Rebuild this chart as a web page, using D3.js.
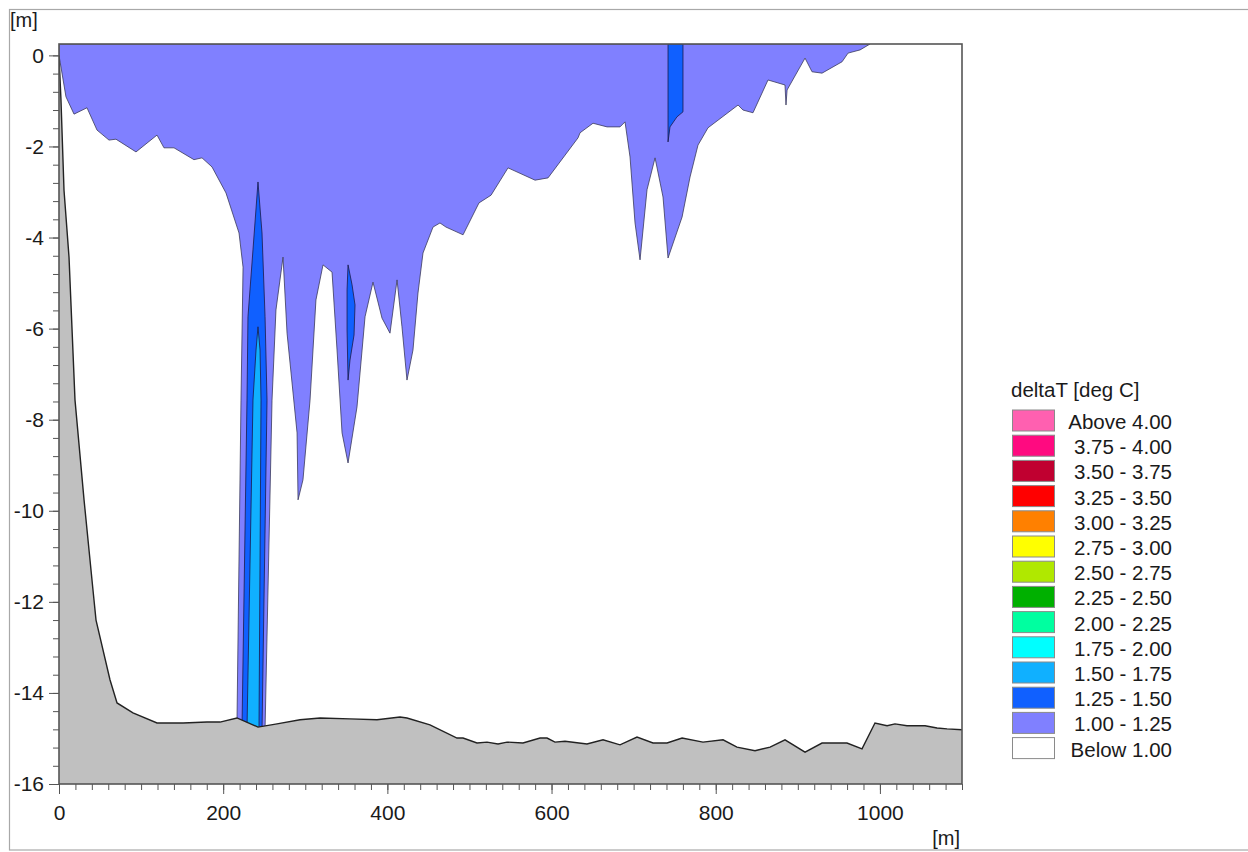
<!DOCTYPE html>
<html lang="en">
<head>
    <meta charset="UTF-8">
    <title>deltaT section</title>
    <script src="https://d3js.org/d3.v7.min.js"></script>
    <style>
        body { margin: 0; background: #fff; }
        svg text { font-family: "Liberation Sans", Arial, sans-serif; fill: #1a1a1a; }
    </style>
</head>
<body>
<div id="chart"></div>
<script>
    // section data, [distance m, level m]
    let bedLine = [[0, 0], [2.4, -0.98], [6.1, -2.96], [12.2, -4.43], [19.5, -7.57], [30.5, -9.76],
        [41.4, -11.74], [45.1, -12.4], [62.1, -13.71], [70.7, -14.22], [90.1, -14.44], [119.4, -14.66],
        [151.1, -14.66], [180.3, -14.64], [196.1, -14.64], [216.8, -14.55], [242.4, -14.75], [265.6, -14.68],
        [293.6, -14.59], [318, -14.55], [354.5, -14.57], [387.4, -14.59], [415.4, -14.53], [423.9, -14.55],
        [451.9, -14.7], [484.8, -14.99], [492.2, -14.99], [509.2, -15.1], [521.4, -15.08], [534.8, -15.12],
        [545.8, -15.08], [565.2, -15.1], [586, -14.99], [594.5, -14.99], [604.2, -15.08], [616.4, -15.06],
        [643.2, -15.12], [662.7, -15.03], [683.4, -15.14], [704.1, -14.97], [723.6, -15.1], [740.7, -15.1],
        [759, -14.99], [784.5, -15.08], [808.9, -15.03], [825.9, -15.19], [847.9, -15.27], [866.2, -15.19],
        [884.4, -15.03], [908.8, -15.3], [929.5, -15.1], [959.9, -15.1], [978.2, -15.23], [994, -14.66],
        [1008.7, -14.72], [1018.4, -14.68], [1033, -14.72], [1055, -14.72], [1069.6, -14.77],
        [1081.8, -14.79], [1100, -14.81]];

    // lower edge of the 1.00 - 1.25 zone
    let band1 = [[0, 0], [8.5, -0.91], [18.3, -1.29], [34.1, -1.15], [46.3, -1.64], [60.9, -1.86],
        [69.4, -1.84], [93.8, -2.12], [119.4, -1.75], [127.9, -2.03], [140.1, -2.03], [164.4, -2.29],
        [174.2, -2.25], [186.4, -2.45], [203.4, -3.02], [219.3, -3.9], [224.2, -4.65], [221.7, -7.57],
        [216.8, -14.65], [251, -14.8], [259.5, -7.57], [264.3, -5.59], [272.9, -4.43], [277.8, -6.1],
        [290, -8.29], [291.2, -9.76], [297.2, -9.32], [305.8, -7.57], [313, -5.37], [321.6, -4.6],
        [332.6, -4.76], [338.7, -6.47], [344.8, -8.29], [352.1, -8.95], [363, -7.72], [372.8, -5.74],
        [382.5, -4.98], [393.5, -5.77], [403.2, -6.1], [411.8, -4.93], [417.8, -5.96], [423.9, -7.13],
        [431.2, -6.47], [437.3, -5.22], [443.4, -4.34], [455.6, -3.77], [464.1, -3.68], [471.4, -3.77],
        [492.2, -3.94], [511.6, -3.24], [526.3, -3.07], [547, -2.47], [579.9, -2.74], [595.7, -2.69],
        [632.3, -1.81], [634.7, -1.7], [650.5, -1.49], [667.6, -1.57], [683.4, -1.57], [689.5, -1.46],
        [695.6, -2.23], [701.7, -3.68], [707.8, -4.49], [716.3, -2.95], [726.1, -2.25], [735.8, -3.11],
        [741.9, -4.45], [759, -3.55], [768.7, -2.67], [778.4, -1.97], [790.6, -1.59], [827.2, -1.09],
        [833.2, -1.2], [845.4, -1.26], [863.7, -0.54], [884.4, -0.65], [885.6, -1.09], [886.9, -0.76],
        [908.8, -0.06], [917.3, -0.36], [929.5, -0.39], [953.9, -0.14], [961.2, 0.05], [975.8, 0.12],
        [988, 0.25]];

    // 1.25 - 1.50 zones
    let band2a = [[222.9, -14.8], [229, -7.57], [230.2, -5.74], [236.3, -4.27], [242.4, -2.78],
        [247.3, -3.9], [251, -5.74], [253.4, -7.57], [247.3, -14.85]];
    let band2b = [[352.1, -4.6], [357, -5.04], [360.6, -5.48], [359.4, -6.14], [354.5, -6.69],
        [352.1, -7.13], [350.9, -6.03], [350.9, -5.15]];
    let band2c = [[741.9, 0.25], [760.1, 0.25], [760.1, -1.24], [752.8, -1.35], [744.3, -1.57],
        [741.9, -1.9]];

    // 1.50 - 1.75 zone
    let band3 = [[229, -14.8], [236.3, -7.57], [240, -6.47], [242.4, -5.96], [244.9, -6.47],
        [246.1, -7.57], [243.6, -14.85]];

    let legendLabels = ['Above 4.00', '3.75 - 4.00', '3.50 - 3.75', '3.25 - 3.50', '3.00 - 3.25',
        '2.75 - 3.00', '2.50 - 2.75', '2.25 - 2.50', '2.00 - 2.25', '1.75 - 2.00', '1.50 - 1.75',
        '1.25 - 1.50', '1.00 - 1.25', 'Below 1.00'];
    let legendColors = ['#ff60b0', '#ff0a80', '#c00030', '#ff0000', '#ff8000', '#ffff00', '#b0e800',
        '#00b000', '#00ffa0', '#00ffff', '#10b0ff', '#1060ff', '#8080ff', '#ffffff'];

    let xTicks = [0, 200, 400, 600, 800, 1000];
    let yTicks = [0, -2, -4, -6, -8, -10, -12, -14, -16];

    let W = 1248, H = 852;
    let pLeft = 59, pRight = 962, pTop = 44, pBottom = 784;

    let svg = d3.select('#chart')
        .append('svg')
        .attr('width', W)
        .attr('height', H);

    // outer frame
    svg.append('rect')
        .attr('x', 9.5).attr('y', 9.5)
        .attr('width', W + 20).attr('height', 840.5)
        .attr('fill', 'none')
        .attr('stroke', '#a8a8a8')
        .attr('stroke-width', 1.2);

    let x = d3.scaleLinear().domain([0, 1100]).range([pLeft, pRight]);
    let y = d3.scaleLinear().domain([-16, 0.25]).range([pBottom, pTop]);

    let plot = svg.append('g');
    plot.append('clipPath').attr('id', 'clip')
        .append('rect')
        .attr('x', pLeft).attr('y', pTop)
        .attr('width', pRight - pLeft).attr('height', pBottom - pTop);

    let area = plot.append('g').attr('clip-path', 'url(#clip)');

    let line = d3.line().x(d => x(d[0])).y(d => y(d[1]));

    area.append('rect')
        .attr('x', pLeft).attr('y', pTop)
        .attr('width', pRight - pLeft).attr('height', pBottom - pTop)
        .attr('fill', '#ffffff');

    // 1.00 - 1.25 zone closed along the surface
    let band1Poly = [[0, 0.25]].concat(band1).concat([[0, 0.25]]);
    area.append('path')
        .attr('d', line(band1Poly))
        .attr('fill', legendColors[12])
        .attr('stroke', '#3a3a5a')
        .attr('stroke-width', 0.8);

    [band2a, band2b, band2c].forEach(function (b) {
        area.append('path')
            .attr('d', line(b) + 'Z')
            .attr('fill', legendColors[11])
            .attr('stroke', '#1a1a4a')
            .attr('stroke-width', 0.8);
    });

    area.append('path')
        .attr('d', line(band3) + 'Z')
        .attr('fill', legendColors[10])
        .attr('stroke', '#1a1a4a')
        .attr('stroke-width', 0.8);

    // bed
    let bedPoly = bedLine.concat([[1100, -16.5], [0, -16.5]]);
    area.append('path')
        .attr('d', line(bedPoly) + 'Z')
        .attr('fill', '#c0c0c0');
    area.append('path')
        .attr('d', line(bedLine))
        .attr('fill', 'none')
        .attr('stroke', '#222')
        .attr('stroke-width', 1.4);

    // axes
    let yMinor = d3.range(0, 41).map(i => -i * 0.4);
    let xMinor = d3.range(0, 56).map(i => i * 20);

    let yAxisMinor = plot.append('g')
        .attr('transform', 'translate(' + pLeft + ',0)')
        .call(d3.axisLeft(y).tickValues(yMinor).tickSize(6).tickFormat(''));
    let yAxis = plot.append('g')
        .attr('transform', 'translate(' + pLeft + ',0)')
        .call(d3.axisLeft(y).tickValues(yTicks).tickSize(10).tickPadding(5));

    let xAxisMinor = plot.append('g')
        .attr('transform', 'translate(0,' + pBottom + ')')
        .call(d3.axisBottom(x).tickValues(xMinor).tickSize(6).tickFormat(''));
    let xAxis = plot.append('g')
        .attr('transform', 'translate(0,' + pBottom + ')')
        .call(d3.axisBottom(x).tickValues(xTicks).tickSize(10).tickPadding(11));

    [yAxisMinor, yAxis, xAxisMinor, xAxis].forEach(function (a) {
        a.select('.domain').remove();
        a.selectAll('line').attr('stroke', '#555').attr('stroke-width', 1);
        a.selectAll('text')
            .attr('font-family', '"Liberation Sans", Arial, sans-serif')
            .attr('font-size', 21)
            .attr('fill', '#1a1a1a');
    });
    yAxis.selectAll('text').text(d => String(d));
    xAxis.selectAll('text').text(d => String(d));

    // plot frame
    plot.append('rect')
        .attr('x', pLeft).attr('y', pTop)
        .attr('width', pRight - pLeft).attr('height', pBottom - pTop)
        .attr('fill', 'none')
        .attr('stroke', '#555')
        .attr('stroke-width', 1.6);

    svg.append('text')
        .attr('x', 10).attr('y', 27)
        .attr('font-size', 20)
        .text('[m]');
    svg.append('text')
        .attr('x', 960).attr('y', 845)
        .attr('text-anchor', 'end')
        .attr('font-size', 20)
        .text('[m]');

    // legend
    let legend = svg.append('g');
    legend.append('text')
        .attr('x', 1011).attr('y', 397)
        .attr('font-size', 20.5)
        .text('deltaT [deg C]');

    legendLabels.forEach(function (label, i) {
        let ty = 410 + i * 25.2;
        legend.append('rect')
            .attr('x', 1012.5).attr('y', ty)
            .attr('width', 42).attr('height', 21)
            .attr('fill', legendColors[i])
            .attr('stroke', '#8a8a8a')
            .attr('stroke-width', 1);
        legend.append('text')
            .attr('x', 1172).attr('y', ty + 19)
            .attr('text-anchor', 'end')
            .attr('font-size', 20.5)
            .text(label);
    });
</script>
</body>
</html>
